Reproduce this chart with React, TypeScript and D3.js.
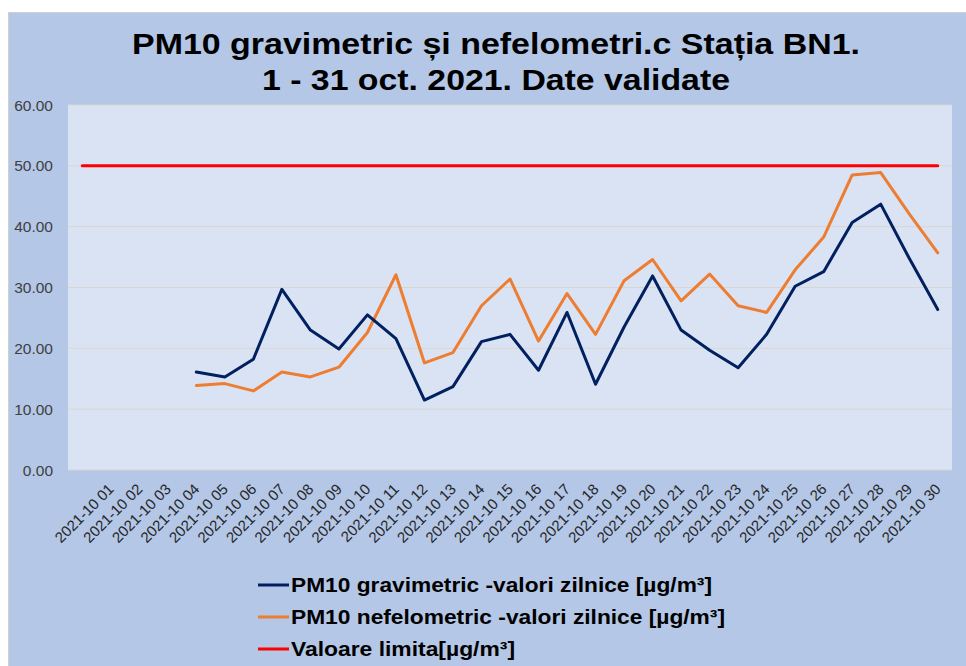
import React from "react";
import * as d3 from "d3";

const titleLines = ["PM10 gravimetric și nefelometri.c Stația BN1.", "1 - 31 oct. 2021. Date validate"];

const categories = [
  "",
  "2021-10 01", "2021-10 02", "2021-10 03", "2021-10 04", "2021-10 05",
  "2021-10 06", "2021-10 07", "2021-10 08", "2021-10 09", "2021-10 10",
  "2021-10 11", "2021-10 12", "2021-10 13", "2021-10 14", "2021-10 15",
  "2021-10 16", "2021-10 17", "2021-10 18", "2021-10 19", "2021-10 20",
  "2021-10 21", "2021-10 22", "2021-10 23", "2021-10 24", "2021-10 25",
  "2021-10 26", "2021-10 27", "2021-10 28", "2021-10 29", "2021-10 30",
];

const gravimetric: (number | null)[] = [
  null, null, null, null,
  16.1, 15.3, 18.2, 29.7, 23.0, 19.9, 25.5, 21.6, 11.5, 13.7, 21.1, 22.3, 16.4, 25.9,
  14.1, 23.5, 31.9, 23.0, 19.7, 16.8, 22.3, 30.2, 32.6, 40.7, 43.7, 34.8, 26.4,
];

const nefelometric: (number | null)[] = [
  null, null, null, null,
  13.9, 14.2, 13.0, 16.1, 15.3, 16.9, 22.6, 32.1, 17.6, 19.3, 27.0, 31.4, 21.2, 29.0,
  22.3, 31.1, 34.6, 27.8, 32.2, 27.0, 25.9, 32.9, 38.3, 48.5, 48.9, 42.1, 35.7,
];

const limitValues: number[] = categories.map(() => 50);

const yTicks = [0, 10, 20, 30, 40, 50, 60];

const legendLabels = [
  "PM10 gravimetric -valori zilnice [µg/m³]",
  "PM10 nefelometric -valori zilnice [µg/m³]",
  "Valoare limita[µg/m³]",
];

const colors = { grav: "#002060", nef: "#ED7D31", limit: "#FF0000" };

export default function App() {
  const W = 966;
  const H = 666;
  const plot = { left: 68, right: 952, top: 105, bottom: 470 };

  const x = d3
    .scaleBand<number>()
    .domain(d3.range(categories.length))
    .range([plot.left, plot.right])
    .paddingInner(0)
    .paddingOuter(0);
  const cx = (i: number) => (x(i) as number) + x.bandwidth() / 2;
  const y = d3.scaleLinear().domain([0, 60]).range([plot.bottom, plot.top]);

  const line = d3
    .line<number | null>()
    .defined((d) => d !== null)
    .x((_, i) => cx(i))
    .y((d) => y(d as number));

  const series = [
    { values: limitValues as (number | null)[], color: colors.limit },
    { values: nefelometric, color: colors.nef },
    { values: gravimetric, color: colors.grav },
  ];

  const legendColors = [colors.grav, colors.nef, colors.limit];
  const legendLengths = [421, 434, 224];
  const titleLengths = [728, 468];

  return (
    <svg
      width={W}
      height={H}
      style={{ position: "absolute", left: 0, top: 0, fontFamily: "'Liberation Sans', Arial, sans-serif" }}
    >
      <rect x={0} y={0} width={W} height={H} fill="#ffffff" />
      <rect x={8.5} y={12.5} width={W + 20} height={H + 20} fill="#B4C7E7" stroke="#D0D0D0" strokeWidth={1} />

      {titleLines.map((t, i) => (
        <text
          key={i}
          x={496}
          y={54 + i * 36}
          textAnchor="middle"
          fontSize={30}
          fontWeight="bold"
          fill="#000000"
          textLength={titleLengths[i]}
          lengthAdjust="spacingAndGlyphs"
        >
          {t}
        </text>
      ))}

      <rect x={plot.left} y={plot.top} width={plot.right - plot.left} height={plot.bottom - plot.top} fill="#DAE3F3" />

      {yTicks.map((t) => (
        <g key={t}>
          <line x1={plot.left} x2={plot.right} y1={y(t)} y2={y(t)} stroke="#D9D6D0" strokeWidth={1} />
          <text x={53} y={y(t) + 5.5} textAnchor="end" fontSize={15.5} fill="#404040">
            {t.toFixed(2)}
          </text>
        </g>
      ))}

      {categories.map((c, i) =>
        c ? (
          <text
            key={i}
            transform={`translate(${cx(i) + 4},${490}) rotate(-45)`}
            textAnchor="end"
            fontSize={15}
            fill="#262626"
          >
            {c}
          </text>
        ) : null
      )}

      {series.map((s, i) => (
        <path
          key={i}
          d={line(s.values) || ""}
          fill="none"
          stroke={s.color}
          strokeWidth={3}
          strokeLinejoin="round"
          strokeLinecap="round"
        />
      ))}

      {legendLabels.map((l, i) => (
        <g key={i}>
          <line x1={258} x2={289} y1={585 + i * 32} y2={585 + i * 32} stroke={legendColors[i]} strokeWidth={3} />
          <text
            x={291}
            y={592 + i * 32}
            fontSize={20}
            fontWeight="bold"
            fill="#000000"
            textLength={legendLengths[i]}
            lengthAdjust="spacingAndGlyphs"
          >
            {l}
          </text>
        </g>
      ))}
    </svg>
  );
}
